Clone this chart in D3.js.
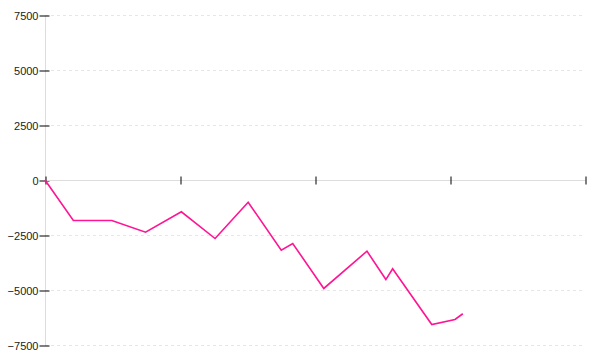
<!DOCTYPE html>
<html>
<head>
<meta charset="utf-8">
<script src="https://cdn.jsdelivr.net/npm/d3@7"></script>
<style>
  body { margin: 0; background: #fff; }
  svg { display: block; font-family: "Liberation Sans", Arial, sans-serif; }
</style>
</head>
<body>
<script>
// data
var xValues = [0, 2.1, 4.95, 7.45, 10.1, 12.6, 15.05, 17.5, 18.35, 20.65, 23.85, 25.25, 25.75, 28.65, 30.37, 30.95];
var yValues = [0, -1840, -1840, -2370, -1445, -2660, -1010, -3190, -2885, -4930, -3235, -4525, -4035, -6570, -6340, -6080];
var xTicks = [0, 10, 20, 30, 40];
var yTicks = [-7500, -5000, -2500, 0, 2500, 5000, 7500];

var w = 600, h = 360;

var xScale = d3.scaleLinear().domain([0, 40]).range([45, 585]);
var yScale = d3.scaleLinear().domain([-7500, 7500]).range([345, 15]);

var svg = d3.select("body").append("svg")
  .attr("width", w)
  .attr("height", h);

// dashed grid
svg.append("g")
  .selectAll("line")
  .data(yTicks.filter(function(d) { return d != 0; }))
  .enter().append("line")
  .attr("x1", 45)
  .attr("x2", 585)
  .attr("y1", function(d) { return Math.round(yScale(d)) + 0.5; })
  .attr("y2", function(d) { return Math.round(yScale(d)) + 0.5; })
  .attr("stroke", "#e6e6e6")
  .attr("stroke-dasharray", "3,3");

// y axis
var yAxis = d3.axisLeft(yScale).tickValues(yTicks).tickSize(6).tickPadding(1)
  .tickFormat(function(d) { return d < 0 ? "\u2212" + Math.abs(d) : d; });
var gy = svg.append("g")
  .attr("transform", "translate(45.5,0.5)")
  .call(yAxis);
gy.select(".domain").attr("stroke", "#ddd").attr("d", "M0,15V345");
gy.selectAll(".tick line").attr("x2", 4).attr("x1", -6).attr("stroke", "#000");
gy.selectAll(".tick text").attr("fill", "#222").style("font-size", "11px");

// x axis at zero
var xAxis = d3.axisBottom(xScale).tickValues(xTicks).tickSize(4).tickFormat("");
var gx = svg.append("g")
  .attr("transform", "translate(0.5," + (Math.round(yScale(0)) + 0.5) + ")")
  .call(xAxis);
gx.select(".domain").attr("stroke", "#ddd").attr("d", "M45,0H585");
gx.selectAll(".tick line").attr("y1", -4).attr("y2", 4).attr("stroke", "#000");

// line
var line = d3.line()
  .x(function(d, i) { return xScale(xValues[i]); })
  .y(function(d) { return yScale(d); });

svg.append("path")
  .datum(yValues)
  .attr("fill", "none")
  .attr("stroke", "#ff1493")
  .attr("stroke-width", 1.6)
  .attr("d", line);
</script>
</body>
</html>
